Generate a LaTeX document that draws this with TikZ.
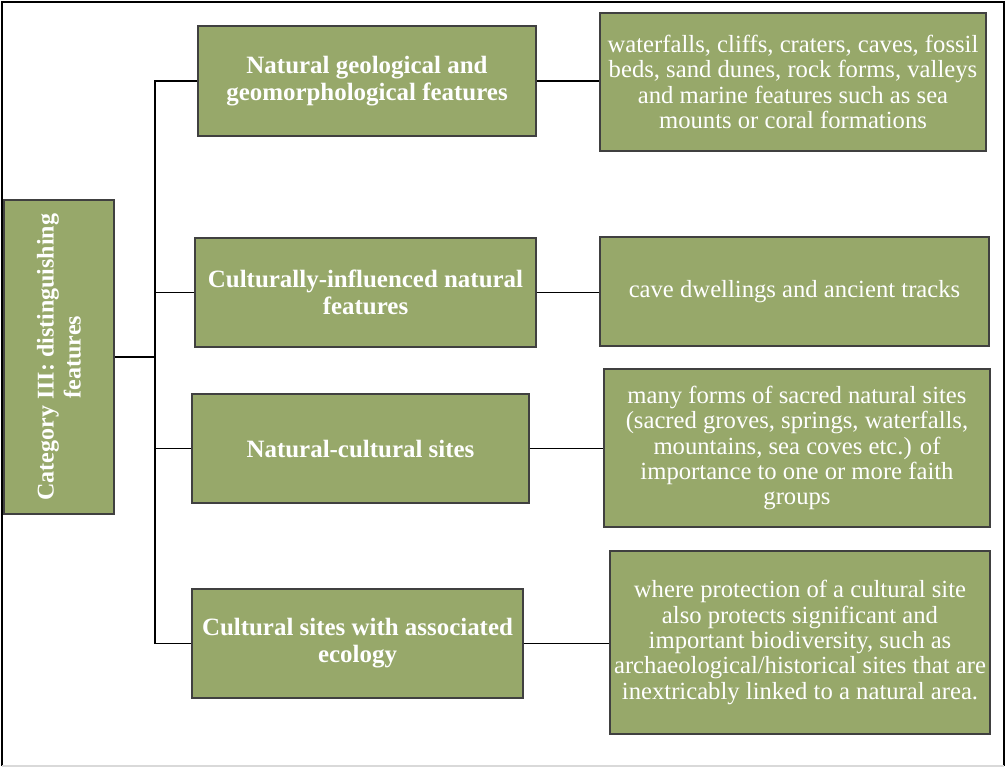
\documentclass[tikz,border=0pt]{standalone}
\usepackage{fontspec}
\setmainfont{Liberation Serif}
\definecolor{olivebox}{RGB}{151,168,106}
\definecolor{boxedge}{RGB}{64,64,64}
\begin{document}
\begin{tikzpicture}[x=0.75pt,y=-0.75pt,
  box/.style={draw=boxedge,line width=0.8pt,fill=olivebox,text=white,align=center,inner sep=1pt},
  midbox/.style={box,font=\fontsize{18.7}{20.3}\selectfont\bfseries},
  leftbox/.style={box,font=\fontsize{18}{20.3}\selectfont\bfseries},
  rightbox/.style={box,font=\fontsize{18.5}{19}\selectfont},
  conn/.style={draw=black,line width=1.1pt}]
\useasboundingbox (0,0) rectangle (1008,769);
\draw[line width=1pt] (2,766) -- (2,2) -- (1004,2) -- (1004,766);
\draw[line width=1pt,black!15] (2,766) -- (1004,766);

\node[leftbox,rotate=90,minimum width=235.5pt,minimum height=82.5pt] (L) at (59,357)
  {Category III: distinguishing\\features};

\node[midbox,minimum width=253.5pt,minimum height=82.5pt] (M1) at (367,81)
  {Natural geological and\\geomorphological features};
\node[midbox,minimum width=255.75pt,minimum height=81.75pt] (M2) at (365.5,292.5)
  {Culturally-influenced natural\\features};
\node[midbox,minimum width=252.75pt,minimum height=81.75pt] (M3) at (360.5,448.5)
  {Natural-cultural sites};
\node[midbox,minimum width=248.25pt,minimum height=81.75pt] (M4) at (357.5,643.5)
  {Cultural sites with associated\\ecology};

\node[rightbox,minimum width=289.5pt,minimum height=103.5pt] (R1) at (793,82)
  {waterfalls, cliffs, craters, caves, fossil\\beds, sand dunes, rock forms, valleys\\and marine features such as sea\\mounts or coral formations};
\node[rightbox,minimum width=291.75pt,minimum height=81.75pt] (R2) at (794.5,291.5)
  {cave dwellings and ancient tracks};
\node[rightbox,minimum width=289.5pt,minimum height=118.5pt] (R3) at (797,448)
  {many forms of sacred natural sites\\(sacred groves, springs, waterfalls,\\mountains, sea coves etc.) of\\importance to one or more faith\\groups};
\node[rightbox,minimum width=285pt,minimum height=137.25pt] (R4) at (800,642.5)
  {where protection of a cultural site\\also protects significant and\\important biodiversity, such as\\archaeological/historical sites that are\\inextricably linked to a natural area.};

\coordinate (sp) at (155,357);
\draw[conn] (L.south) -- (sp);
\draw[conn] (M1.west) -| (sp);
\draw[conn] (M2.west) -| (sp);
\draw[conn] (M3.west) -| (sp);
\draw[conn] (M4.west) -| (sp);

\draw[conn] (M1.east) -- (M1.east -| R1.west);
\draw[conn] (M2.east) -- (M2.east -| R2.west);
\draw[conn] (M3.east) -- (M3.east -| R3.west);
\draw[conn] (M4.east) -- (M4.east -| R4.west);
\end{tikzpicture}
\end{document}
